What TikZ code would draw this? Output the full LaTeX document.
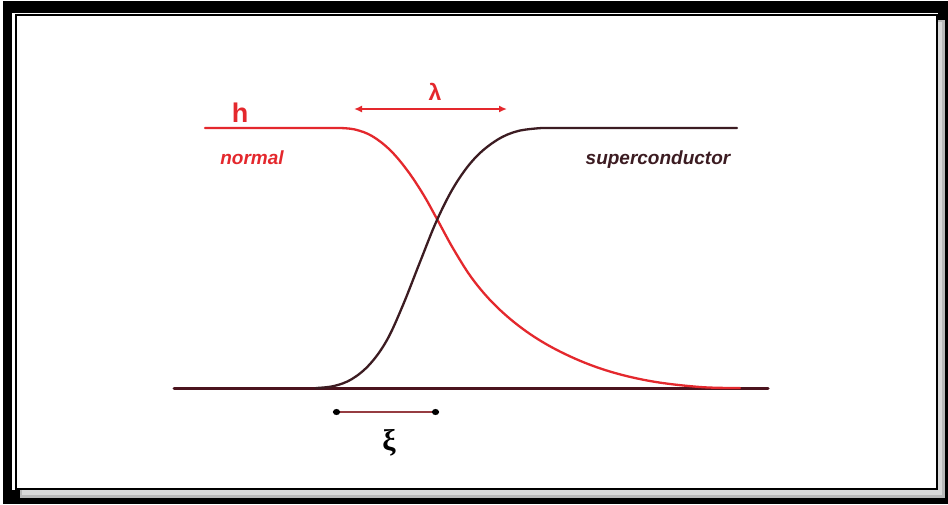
\documentclass[tikz,border=0pt]{standalone}
\usepackage{fontspec}
\setmainfont{Liberation Sans}
\newfontfamily\serifgreek{Liberation Serif}
\usetikzlibrary{arrows.meta}
\definecolor{hred}{RGB}{228,40,45}
\definecolor{dark}{RGB}{60,28,34}
\definecolor{base}{RGB}{75,20,30}
\definecolor{xiline}{RGB}{150,60,65}
\tikzset{
  redcurve/.style={hred, line width=2.3pt, line cap=round},
  darkcurve/.style={dark, line width=2.3pt, line cap=round},
  lbl/.style={inner sep=0pt, anchor=center},
  lamarrow/.style={hred, line width=2.8pt, {Latex[length=8pt,width=7pt]}-{Latex[length=8pt,width=7pt]}},
  xiarrow/.style={xiline, line width=2.4pt, {Circle[length=7pt,width=6pt,fill=black,black]}-{Circle[length=7pt,width=6pt,fill=black,black]}}
}
\begin{document}
\begin{tikzpicture}[x=1pt,y=-1pt]
\useasboundingbox (0,0) rectangle (948,504);
% frame
\fill[white] (0,0) rectangle (948,504);
\fill[black] (3,1) rectangle (948,504);
\fill[gray!55] (20,20) rectangle (945,498);
\fill[gray!30] (22,22) rectangle (942,495);
\fill[white] (12,13) rectangle (938,490);
\draw[black, line width=2pt] (16,15) rectangle (937,489);
% baseline
\coordinate (b0) at (174,388);
\coordinate (b1) at (768,388);
\draw[base, line width=3pt, line cap=round] (b0) -- (b1);
% normal-state field curve h (red)
\draw[redcurve] (205,128) -- (340,128)
  plot[smooth, tension=0.6] coordinates {(340,128) (355,129.5) (372,136) (390,150) (407,170) (423,194) (437,219) (454,250) (474,281) (499,309) (530,334) (565,354) (605,370) (650,381) (700,387) (740,388)};
% superconducting order parameter (dark)
\draw[darkcurve] plot[smooth, tension=0.6] coordinates {(316,388) (334,386) (352,379) (370,364) (387,340) (403,305) (420,262) (437,220) (455,185) (475,158) (497,140) (518,131) (542,128)} -- (737,128);
% lambda arrow
\coordinate (la) at (354,109);
\coordinate (lb) at (507,109);
\draw[lamarrow] (la) -- (lb);
\node[lbl, text=hred] (lam) at (435,92) {\fontsize{23}{23}\selectfont\bfseries λ};
% xi arrow
\coordinate (xa) at (333,412);
\coordinate (xb) at (439,412);
\draw[xiarrow] (xa) -- (xb);
\node[lbl, text=black] (xi) at (389,443) {\fontsize{30}{30}\selectfont\bfseries\serifgreek ξ};
% labels
\node[lbl, text=hred] (h) at (240,113) {\fontsize{27}{27}\selectfont\bfseries h};
\node[lbl, text=hred] (normal) at (252,158) {\fontsize{19}{19}\selectfont\bfseries\itshape normal};
\node[lbl, text=dark] (sc) at (658,160) {\fontsize{19}{19}\selectfont\bfseries\itshape superconductor};
\end{tikzpicture}
\end{document}
